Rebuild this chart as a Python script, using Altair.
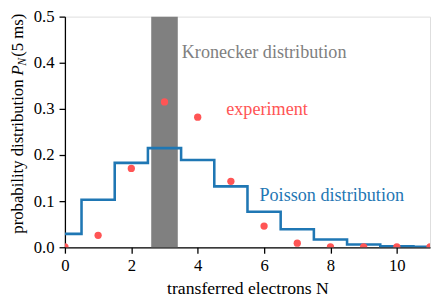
import altair as alt
import pandas as pd

# data
n_values = [0, 1, 2, 3, 4, 5, 6, 7, 8, 9, 10, 11]
poisson = [0.029, 0.103, 0.183, 0.215, 0.189, 0.132, 0.077, 0.039, 0.017, 0.006, 0.002, 0.001]
experiment = [0.001, 0.026, 0.171, 0.315, 0.282, 0.143, 0.046, 0.009, 0.001, 0.001, 0.001, 0.001]
kron_band = [2.6, 3.4]
x_ticks = [0, 2, 4, 6, 8, 10]
y_ticks = [0.0, 0.1, 0.2, 0.3, 0.4, 0.5]

df = pd.DataFrame({"N": n_values, "poisson": poisson, "experiment": experiment})
band_df = pd.DataFrame({"x1": [kron_band[0]], "x2": [kron_band[1]]})

FONT = "Liberation Serif"
W, H = 372, 235
BLUE = "#1f77b4"
RED = "#ff5555"
GRAY = "#808080"

xscale = alt.Scale(domain=[0, 11], nice=False, zero=False)
yscale = alt.Scale(domain=[0, 0.5], nice=False)

xaxis = alt.Axis(values=x_ticks, format="d", title="transferred electrons N",
                 titleFont=FONT, titleFontSize=18, titleFontWeight="normal",
                 titleColor="black", titlePadding=6,
                 labelFont=FONT, labelFontSize=17, labelColor="black",
                 labelPadding=5, tickSize=6, tickColor="black", tickWidth=1.3,
                 domainColor="black", domainWidth=1.3, grid=False, labelFlush=False)
yaxis = alt.Axis(values=y_ticks, format=".1f", title=None,
                 labelFont=FONT, labelFontSize=17, labelColor="black",
                 labelPadding=5, tickSize=6, tickColor="black", tickWidth=1.3,
                 domainColor="black", domainWidth=1.3, grid=False, labelFlush=False)

band = alt.Chart(band_df).mark_rect(color=GRAY, opacity=1).encode(
    x=alt.X("x1:Q", scale=xscale, axis=xaxis),
    x2="x2:Q",
    y=alt.datum(0, scale=yscale),
    y2=alt.datum(0.5),
)

line = alt.Chart(df).mark_line(color=BLUE, strokeWidth=2.6, interpolate="step", clip=True).encode(
    x=alt.X("N:Q", scale=xscale, axis=xaxis),
    y=alt.Y("poisson:Q", scale=yscale, axis=yaxis),
)

points = alt.Chart(df).mark_circle(color=RED, size=55, opacity=1, clip=True).encode(
    x=alt.X("N:Q", scale=xscale),
    y=alt.Y("experiment:Q", scale=yscale),
)

def label(txt, x, y, color):
    return alt.Chart(pd.DataFrame({"t": [txt]})).mark_text(
        font=FONT, fontSize=18.5, color=color, align="left", baseline="middle"
    ).encode(x=alt.datum(x), y=alt.datum(y), text="t:N")

kron_t = label("Kronecker distribution", 3.52, 0.423, GRAY)
exp_t = label("experiment", 4.86, 0.300, RED)
poi_t = label("Poisson distribution", 5.86, 0.113, BLUE)

# y-axis title assembled from pieces (italic P with subscript N)
TX = -48
def ytitle(txt, ypix, align, size=17, style="normal", dx=0):
    return alt.Chart(pd.DataFrame({"t": [txt]})).mark_text(
        font=FONT, fontSize=size, fontStyle=style, color="black", angle=270,
        align=align, baseline="middle"
    ).encode(x=alt.value(TX + dx), y=alt.value(ypix), text="t:N")

yt1 = ytitle("probability distribution", 64, "right")
yt2 = ytitle("P", 60, "left", style="italic")
yt3 = ytitle("N", 50, "left", size=12, style="italic", dx=4)
yt4 = ytitle("(5 ms)", 41, "left")

chart = alt.layer(band, line, points, kron_t, exp_t, poi_t, yt1, yt2, yt3, yt4).properties(
    width=W, height=H,
    autosize=alt.AutoSizeParams(type="none"),
    padding={"left": 58, "top": 6, "right": 2, "bottom": 55},
).configure_view(stroke="black", strokeWidth=1.3).configure(background="white", font=FONT)

chart.save("out.html", embed_options={"renderer": "svg", "actions": False})
